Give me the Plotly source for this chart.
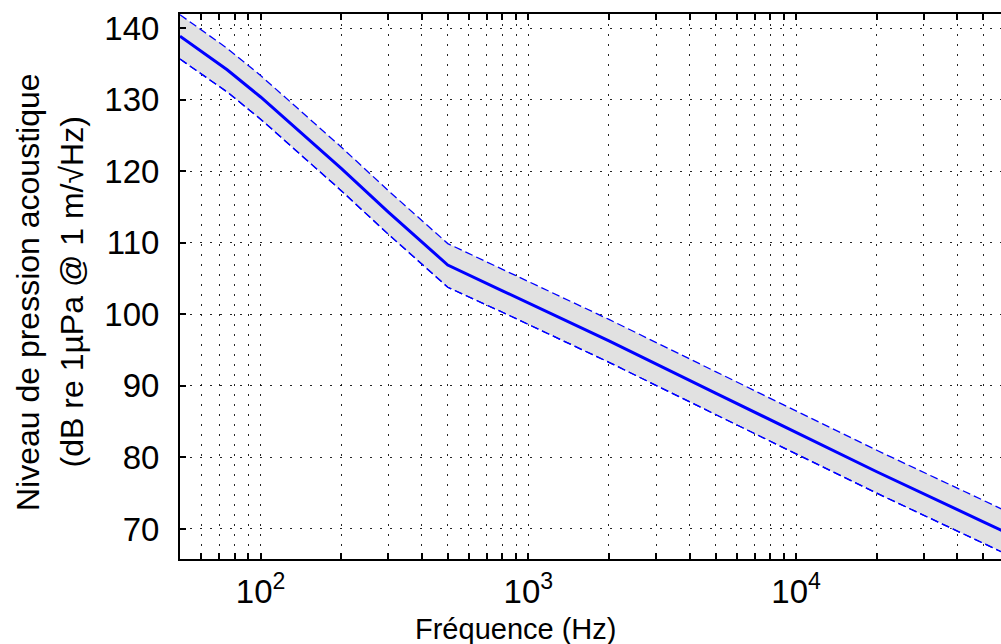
import plotly.graph_objects as go

# fréquence (Hz) et niveau (dB re 1µPa @ 1 m/√Hz)
freq = [50, 75, 100, 150, 200, 300, 500, 800, 1000, 1500, 2000, 5000, 10000, 20000, 50000, 60000]
niveau = [138.9, 134.2, 130.4, 124.5, 120.4, 114.3, 106.9, 103.3, 101.6, 98.6, 96.3, 89.0, 83.5, 78.0, 71.0, 69.6]
borne_sup = [141.9, 137.2, 133.4, 127.5, 123.4, 117.3, 109.9, 106.3, 104.6, 101.6, 99.3, 92.0, 86.5, 81.0, 74.0, 72.6]
borne_inf = [135.7, 131.1, 127.3, 121.4, 117.3, 111.2, 103.8, 100.3, 98.6, 95.6, 93.3, 86.0, 80.5, 75.0, 68.0, 66.6]

xticks = [50, 60, 70, 80, 90,
          100, 200, 300, 400, 500, 600, 700, 800, 900,
          1000, 2000, 3000, 4000, 5000, 6000, 7000, 8000, 9000,
          10000, 20000, 30000, 40000, 50000]
xlabels = ["10<sup>2</sup>" if v == 100 else "10<sup>3</sup>" if v == 1000
           else "10<sup>4</sup>" if v == 10000 else "" for v in xticks]
yticks = [70, 80, 90, 100, 110, 120, 130, 140]

BLEU = "#0000ff"
FONT = "Liberation Sans, Arial, sans-serif"

fig = go.Figure()
fig.add_trace(go.Scatter(x=freq, y=borne_inf, mode="lines",
                         line=dict(color=BLEU, width=1.3, dash="8px,4px"),
                         showlegend=False))
fig.add_trace(go.Scatter(x=freq, y=borne_sup, mode="lines", fill="tonexty",
                         fillcolor="#e1e1e1",
                         line=dict(color=BLEU, width=1.3, dash="8px,4px"),
                         showlegend=False))
# redraw the lower dashed line above the fill
fig.add_trace(go.Scatter(x=freq, y=borne_inf, mode="lines",
                         line=dict(color=BLEU, width=1.3, dash="8px,4px"),
                         showlegend=False))
fig.add_trace(go.Scatter(x=freq, y=niveau, mode="lines",
                         line=dict(color=BLEU, width=3), showlegend=False))

fig.update_xaxes(type="log", range=[1.699, 4.765],
                 tickvals=xticks, ticktext=xlabels,
                 ticks="inside", ticklen=6, tickwidth=2, tickcolor="black",
                 showline=True, linecolor="black", linewidth=2, mirror="ticks",
                 showgrid=True, gridcolor="rgba(0,0,0,0.85)", gridwidth=1,
                 griddash="2px,8px", zeroline=False,
                 tickfont=dict(family=FONT, size=33, color="black"),
                 ticklabelstandoff=2)
fig.update_yaxes(range=[65.8, 142], tickvals=yticks,
                 ticks="inside", ticklen=6, tickwidth=2, tickcolor="black",
                 showline=True, linecolor="black", linewidth=2,
                 showgrid=True, gridcolor="rgba(0,0,0,0.85)", gridwidth=1,
                 griddash="2px,8px", zeroline=False,
                 tickfont=dict(family=FONT, size=33, color="black"),
                 ticklabelstandoff=12)

fig.add_annotation(text="Fréquence (Hz)", xref="paper", yref="paper",
                   x=0.409, y=-0.095, xanchor="center", yanchor="top",
                   showarrow=False, font=dict(family=FONT, size=29, color="black"))
fig.add_annotation(text="Niveau de pression acoustique", xref="paper", yref="paper",
                   x=-0.185, y=0.49, xanchor="center", yanchor="middle", textangle=-90,
                   showarrow=False, font=dict(family=FONT, size=32, color="black"))
fig.add_annotation(text="(dB re 1µPa @ 1 m/√Hz)", xref="paper", yref="paper",
                   x=-0.131, y=0.49, xanchor="center", yanchor="middle", textangle=-90,
                   showarrow=False, font=dict(family=FONT, size=32, color="black"))

fig.update_layout(width=1001, height=644,
                  margin=dict(l=180, r=0, t=14, b=85),
                  plot_bgcolor="white", paper_bgcolor="white")

# drop the default 8px body margin so the figure fills the window exactly
fig.write_html("out.html", config={"displayModeBar": False},
               post_script="document.body.style.margin = '0';")
